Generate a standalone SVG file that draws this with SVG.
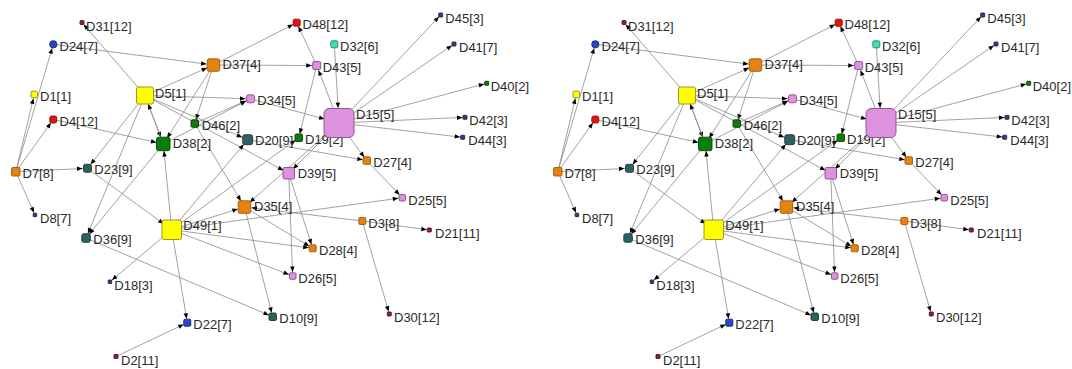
<svg xmlns="http://www.w3.org/2000/svg" width="1072" height="369" viewBox="0 0 1072 369">
<defs>
<style>
.bg{fill:#ffffff}
.e line,line.e{stroke:#8a8a8a;stroke-width:0.8}
.a2{marker-end:url(#m2)}.a4{marker-end:url(#m4)}.a5{marker-end:url(#m5)}.a6{marker-end:url(#m6)}
.a7{marker-end:url(#m7)}.a9{marker-end:url(#m9)}.a10{marker-end:url(#m10)}.a15{marker-end:url(#m15)}
text{font-family:"Liberation Sans",Arial,sans-serif;font-size:13px;fill:#2a2a2a}
rect{stroke-width:0.9}
.yel{fill:#ffff00;stroke:#8c8c1a}
.org{fill:#e8820e;stroke:#9a5a10}
.pnk{fill:#dc92dc;stroke:#8a4a8a}
.grn{fill:#0b7d0b;stroke:#064006}
.tea{fill:#2e6060;stroke:#1a3a3a}
.blu{fill:#2747c8;stroke:#14246a}
.red{fill:#e31414;stroke:#801010}
.mar{fill:#8b2035;stroke:#501020}
.nav{fill:#3b3b80;stroke:#20204a}
.aqu{fill:#3fe0b0;stroke:#208060}
</style>
<marker id="m2" markerUnits="userSpaceOnUse" markerWidth="6" markerHeight="5" refX="8" refY="2.25" orient="auto" overflow="visible"><path d="M0,0 L5.5,2.25 L0,4.5 z" fill="#000"/></marker>
<marker id="m4" markerUnits="userSpaceOnUse" markerWidth="6" markerHeight="5" refX="9.5" refY="2.25" orient="auto" overflow="visible"><path d="M0,0 L5.5,2.25 L0,4.5 z" fill="#000"/></marker>
<marker id="m5" markerUnits="userSpaceOnUse" markerWidth="6" markerHeight="5" refX="10.5" refY="2.25" orient="auto" overflow="visible"><path d="M0,0 L5.5,2.25 L0,4.5 z" fill="#000"/></marker>
<marker id="m6" markerUnits="userSpaceOnUse" markerWidth="6" markerHeight="5" refX="11.5" refY="2.25" orient="auto" overflow="visible"><path d="M0,0 L5.5,2.25 L0,4.5 z" fill="#000"/></marker>
<marker id="m7" markerUnits="userSpaceOnUse" markerWidth="6" markerHeight="5" refX="12.5" refY="2.25" orient="auto" overflow="visible"><path d="M0,0 L5.5,2.25 L0,4.5 z" fill="#000"/></marker>
<marker id="m9" markerUnits="userSpaceOnUse" markerWidth="6" markerHeight="5" refX="14.5" refY="2.25" orient="auto" overflow="visible"><path d="M0,0 L5.5,2.25 L0,4.5 z" fill="#000"/></marker>
<marker id="m10" markerUnits="userSpaceOnUse" markerWidth="6" markerHeight="5" refX="15.5" refY="2.25" orient="auto" overflow="visible"><path d="M0,0 L5.5,2.25 L0,4.5 z" fill="#000"/></marker>
<marker id="m15" markerUnits="userSpaceOnUse" markerWidth="6" markerHeight="5" refX="20.5" refY="2.25" orient="auto" overflow="visible"><path d="M0,0 L5.5,2.25 L0,4.5 z" fill="#000"/></marker>
</defs>
<rect class="bg" x="0" y="0" width="1072" height="369"/>

<!-- left panel -->
<g id="panel-left">
<g id="connectors-left" class="e">
<line class="a4" x1="15.8" y1="171.7" x2="34.3" y2="94.5"/>
<line class="a4" x1="15.8" y1="171.7" x2="53.3" y2="44.3"/>
<line class="a4" x1="15.8" y1="171.7" x2="53.3" y2="119.5"/>
<line class="a5" x1="15.8" y1="171.7" x2="87.5" y2="168.3"/>
<line class="a2" x1="15.8" y1="171.7" x2="35" y2="215"/>
<line class="a2" x1="145" y1="95.5" x2="82" y2="22.5"/>
<line class="a7" x1="53.3" y1="44.3" x2="213.5" y2="65"/>
<line class="a7" x1="145" y1="95.5" x2="213.5" y2="65"/>
<line class="a4" x1="213.5" y1="65" x2="296.7" y2="22.7"/>
<line class="a5" x1="213.5" y1="65" x2="316.7" y2="65.5"/>
<line class="a4" x1="213.5" y1="65" x2="194.7" y2="123.5"/>
<line class="a7" x1="213.5" y1="65" x2="163.3" y2="144"/>
<line class="a5" x1="145" y1="95.5" x2="250.5" y2="98.8"/>
<line class="a6" x1="145" y1="95.5" x2="247.7" y2="139.7"/>
<line class="a6" x1="145" y1="95.5" x2="288.7" y2="173.3"/>
<line class="a7" x1="145" y1="95.5" x2="163.3" y2="144"/>
<line class="a9" x1="163.3" y1="144" x2="145" y2="95.5"/>
<line class="a5" x1="145" y1="95.5" x2="87.5" y2="168.3"/>
<line class="a5" x1="145" y1="95.5" x2="86" y2="238"/>
<line class="a7" x1="53.3" y1="119.5" x2="163.3" y2="144"/>
<line class="a5" x1="194.7" y1="123.5" x2="250.5" y2="98.8"/>
<line class="a5" x1="163.3" y1="144" x2="250.5" y2="98.8"/>
<line class="a7" x1="194.7" y1="123.5" x2="244.5" y2="207"/>
<line class="a5" x1="163.3" y1="144" x2="86" y2="238"/>
<line class="a7" x1="171.7" y1="229.7" x2="163.3" y2="144"/>
<line class="a4" x1="171.7" y1="229.7" x2="187.3" y2="322.7"/>
<line class="a4" x1="116" y1="356.5" x2="187.3" y2="322.7"/>
<line class="a7" x1="171.7" y1="229.7" x2="244.5" y2="207"/>
<line class="a4" x1="171.7" y1="229.7" x2="402.3" y2="197.7"/>
<line class="a4" x1="171.7" y1="229.7" x2="312.7" y2="248.3"/>
<line class="a4" x1="171.7" y1="229.7" x2="292.7" y2="276"/>
<line class="a6" x1="171.7" y1="229.7" x2="247.7" y2="139.7"/>
<line class="a4" x1="171.7" y1="229.7" x2="298.8" y2="137.8"/>
<line class="a2" x1="171.7" y1="229.7" x2="110" y2="281.7"/>
<line class="a10" x1="87.5" y1="168.3" x2="171.7" y2="229.7"/>
<line class="a4" x1="86" y1="238" x2="272.7" y2="316.7"/>
<line class="a4" x1="244.5" y1="207" x2="272.7" y2="316.7"/>
<line class="a4" x1="288.7" y1="173.3" x2="292.7" y2="276"/>
<line class="a4" x1="288.7" y1="173.3" x2="312.7" y2="248.3"/>
<line class="a4" x1="244.5" y1="207" x2="312.7" y2="248.3"/>
<line class="a7" x1="362.3" y1="221" x2="244.5" y2="207"/>
<line class="a2" x1="362.3" y1="221" x2="429.3" y2="230"/>
<line class="a2" x1="362.3" y1="221" x2="389.3" y2="314"/>
<line class="a4" x1="366.7" y1="160.5" x2="402.3" y2="197.7"/>
<line class="a4" x1="339" y1="123" x2="366.7" y2="160.5"/>
<line class="a4" x1="247.7" y1="139.7" x2="366.7" y2="160.5"/>
<line class="a2" x1="339" y1="123" x2="440.7" y2="15"/>
<line class="a2" x1="339" y1="123" x2="454" y2="44"/>
<line class="a2" x1="339" y1="123" x2="486.7" y2="83.3"/>
<line class="a2" x1="339" y1="123" x2="465" y2="117.3"/>
<line class="a2" x1="339" y1="123" x2="462.7" y2="137.3"/>
<line class="a5" x1="339" y1="123" x2="316.7" y2="65.5"/>
<line class="a4" x1="316.7" y1="65.5" x2="296.7" y2="22.7"/>
<line class="a15" x1="334.3" y1="44.3" x2="339" y2="123"/>
<line class="a4" x1="316.7" y1="65.5" x2="298.8" y2="137.8"/>
<line class="a15" x1="250.5" y1="98.8" x2="339" y2="123"/>
<line class="a6" x1="339" y1="123" x2="288.7" y2="173.3"/>
<line class="a7" x1="339" y1="123" x2="244.5" y2="207"/>
</g>
<g id="node-D31"><rect class="mar" x="80" y="20.5" width="4" height="4" rx="0.8"/><text x="86" y="30.5">D31[12]</text></g>
<g id="node-D24"><rect class="blu" x="49.8" y="40.8" width="7" height="7" rx="3"/><text x="59.5" y="50.8">D24[7]</text></g>
<g id="node-D1"><rect class="yel" x="31" y="91.2" width="6.5" height="6.5" rx="1.2"/><text x="40" y="101.2">D1[1]</text></g>
<g id="node-D4"><rect class="red" x="49.8" y="116" width="7" height="7" rx="2"/><text x="59.5" y="126">D4[12]</text></g>
<g id="node-D7"><rect class="org" x="11.5" y="167.5" width="8.5" height="8.5" rx="1.2"/><text x="22.5" y="177.5">D7[8]</text></g>
<g id="node-D8"><rect class="nav" x="33.2" y="213.2" width="3.5" height="3.5" rx="0.6"/><text x="40" y="223">D8[7]</text></g>
<g id="node-D5"><rect class="yel" x="136.5" y="87" width="17" height="17" rx="2"/><text x="155" y="97.5">D5[1]</text></g>
<g id="node-D37"><rect class="org" x="207.2" y="58.8" width="12.5" height="12.5" rx="2"/><text x="222.5" y="69">D37[4]</text></g>
<g id="node-D48"><rect class="red" x="293.2" y="19.2" width="7" height="7" rx="1.5"/><text x="302.5" y="29.2">D48[12]</text></g>
<g id="node-D32"><rect class="aqu" x="330.8" y="40.8" width="7" height="7" rx="1.5"/><text x="340" y="50.8">D32[6]</text></g>
<g id="node-D43"><rect class="pnk" x="312.7" y="61.5" width="8" height="8" rx="1.5"/><text x="322.7" y="71.5">D43[5]</text></g>
<g id="node-D34"><rect class="pnk" x="246.5" y="94.8" width="8" height="8" rx="2"/><text x="257.3" y="104.8">D34[5]</text></g>
<g id="node-D46"><rect class="grn" x="191" y="119.8" width="7.5" height="7.5" rx="1.2"/><text x="201.7" y="129.8">D46[2]</text></g>
<g id="node-D38"><rect class="grn" x="156.5" y="137.2" width="13.5" height="13.5" rx="2"/><text x="172.7" y="147.5">D38[2]</text></g>
<g id="node-D20"><rect class="tea" x="242.7" y="134.7" width="10" height="10" rx="2.2"/><text x="255" y="145">D20[9]</text></g>
<g id="node-D19"><rect class="grn" x="295" y="134" width="7.5" height="7.5" rx="1.2"/><text x="305" y="144">D19[2]</text></g>
<g id="node-D15"><rect class="pnk" x="324" y="108.5" width="30" height="29" rx="5"/><text x="356" y="118.5">D15[5]</text></g>
<g id="node-D45"><rect class="nav" x="438.7" y="13" width="4" height="4" rx="0.6"/><text x="445.3" y="23">D45[3]</text></g>
<g id="node-D41"><rect class="nav" x="452" y="42" width="4" height="4" rx="0.6"/><text x="459" y="52">D41[7]</text></g>
<g id="node-D40"><rect class="grn" x="484.7" y="81.3" width="4" height="4" rx="0.6"/><text x="490.7" y="91.3">D40[2]</text></g>
<g id="node-D42"><rect class="nav" x="463" y="115.3" width="4" height="4" rx="0.6"/><text x="469.3" y="125.3">D42[3]</text></g>
<g id="node-D44"><rect class="nav" x="460.7" y="135.3" width="4" height="4" rx="0.6"/><text x="468.3" y="145.3">D44[3]</text></g>
<g id="node-D27"><rect class="org" x="363" y="156.8" width="7.5" height="7.5" rx="1.2"/><text x="373.3" y="166.8">D27[4]</text></g>
<g id="node-D23"><rect class="tea" x="83.5" y="164.3" width="8" height="8" rx="1.8"/><text x="94.3" y="174.3">D23[9]</text></g>
<g id="node-D39"><rect class="pnk" x="283" y="167.5" width="11.5" height="11.5" rx="1.5"/><text x="297.7" y="177.7">D39[5]</text></g>
<g id="node-D25"><rect class="pnk" x="399" y="194.5" width="6.5" height="6.5" rx="1.2"/><text x="408.3" y="204.5">D25[5]</text></g>
<g id="node-D35"><rect class="org" x="238.2" y="200.8" width="12.5" height="12.5" rx="1.5"/><text x="254" y="211">D35[4]</text></g>
<g id="node-D49"><rect class="yel" x="162" y="220" width="19.5" height="19.5" rx="2"/><text x="183.3" y="230">D49[1]</text></g>
<g id="node-D3"><rect class="org" x="358.8" y="217.5" width="7" height="7" rx="1.2"/><text x="368.3" y="227.5">D3[8]</text></g>
<g id="node-D21"><rect class="mar" x="427.3" y="228" width="4" height="4" rx="0.6"/><text x="435" y="238">D21[11]</text></g>
<g id="node-D36"><rect class="tea" x="81.8" y="233.8" width="8.5" height="8.5" rx="1.8"/><text x="93.3" y="243.8">D36[9]</text></g>
<g id="node-D28"><rect class="org" x="309.2" y="244.8" width="7" height="7" rx="1.2"/><text x="319" y="254.8">D28[4]</text></g>
<g id="node-D26"><rect class="pnk" x="289.5" y="272.8" width="6.5" height="6.5" rx="1.2"/><text x="298.3" y="282.8">D26[5]</text></g>
<g id="node-D18"><rect class="nav" x="108.2" y="280" width="3.5" height="3.5" rx="0.6"/><text x="114.3" y="290">D18[3]</text></g>
<g id="node-D10"><rect class="tea" x="269" y="313" width="7.5" height="7.5" rx="1.5"/><text x="279.3" y="323">D10[9]</text></g>
<g id="node-D22"><rect class="blu" x="183.8" y="319.2" width="7" height="7" rx="1.2"/><text x="193.3" y="329.2">D22[7]</text></g>
<g id="node-D30"><rect class="mar" x="387.3" y="312" width="4" height="4" rx="0.6"/><text x="394" y="322">D30[12]</text></g>
<g id="node-D2"><rect class="mar" x="114" y="354.5" width="4" height="4" rx="0.6"/><text x="121" y="364.5">D2[11]</text></g>
</g>

<!-- right panel: same graph, shifted -->
<g id="panel-right" transform="translate(542,0)">
<g id="connectors-right" class="e">
<line class="a4" x1="15.8" y1="171.7" x2="34.3" y2="94.5"/>
<line class="a4" x1="15.8" y1="171.7" x2="53.3" y2="44.3"/>
<line class="a4" x1="15.8" y1="171.7" x2="53.3" y2="119.5"/>
<line class="a5" x1="15.8" y1="171.7" x2="87.5" y2="168.3"/>
<line class="a2" x1="15.8" y1="171.7" x2="35" y2="215"/>
<line class="a2" x1="145" y1="95.5" x2="82" y2="22.5"/>
<line class="a7" x1="53.3" y1="44.3" x2="213.5" y2="65"/>
<line class="a7" x1="145" y1="95.5" x2="213.5" y2="65"/>
<line class="a4" x1="213.5" y1="65" x2="296.7" y2="22.7"/>
<line class="a5" x1="213.5" y1="65" x2="316.7" y2="65.5"/>
<line class="a4" x1="213.5" y1="65" x2="194.7" y2="123.5"/>
<line class="a7" x1="213.5" y1="65" x2="163.3" y2="144"/>
<line class="a5" x1="145" y1="95.5" x2="250.5" y2="98.8"/>
<line class="a6" x1="145" y1="95.5" x2="247.7" y2="139.7"/>
<line class="a6" x1="145" y1="95.5" x2="288.7" y2="173.3"/>
<line class="a7" x1="145" y1="95.5" x2="163.3" y2="144"/>
<line class="a9" x1="163.3" y1="144" x2="145" y2="95.5"/>
<line class="a5" x1="145" y1="95.5" x2="87.5" y2="168.3"/>
<line class="a5" x1="145" y1="95.5" x2="86" y2="238"/>
<line class="a7" x1="53.3" y1="119.5" x2="163.3" y2="144"/>
<line class="a5" x1="194.7" y1="123.5" x2="250.5" y2="98.8"/>
<line class="a5" x1="163.3" y1="144" x2="250.5" y2="98.8"/>
<line class="a7" x1="194.7" y1="123.5" x2="244.5" y2="207"/>
<line class="a5" x1="163.3" y1="144" x2="86" y2="238"/>
<line class="a7" x1="171.7" y1="229.7" x2="163.3" y2="144"/>
<line class="a4" x1="171.7" y1="229.7" x2="187.3" y2="322.7"/>
<line class="a4" x1="116" y1="356.5" x2="187.3" y2="322.7"/>
<line class="a7" x1="171.7" y1="229.7" x2="244.5" y2="207"/>
<line class="a4" x1="171.7" y1="229.7" x2="402.3" y2="197.7"/>
<line class="a4" x1="171.7" y1="229.7" x2="312.7" y2="248.3"/>
<line class="a4" x1="171.7" y1="229.7" x2="292.7" y2="276"/>
<line class="a6" x1="171.7" y1="229.7" x2="247.7" y2="139.7"/>
<line class="a4" x1="171.7" y1="229.7" x2="298.8" y2="137.8"/>
<line class="a2" x1="171.7" y1="229.7" x2="110" y2="281.7"/>
<line class="a10" x1="87.5" y1="168.3" x2="171.7" y2="229.7"/>
<line class="a4" x1="86" y1="238" x2="272.7" y2="316.7"/>
<line class="a4" x1="244.5" y1="207" x2="272.7" y2="316.7"/>
<line class="a4" x1="288.7" y1="173.3" x2="292.7" y2="276"/>
<line class="a4" x1="288.7" y1="173.3" x2="312.7" y2="248.3"/>
<line class="a4" x1="244.5" y1="207" x2="312.7" y2="248.3"/>
<line class="a7" x1="362.3" y1="221" x2="244.5" y2="207"/>
<line class="a2" x1="362.3" y1="221" x2="429.3" y2="230"/>
<line class="a2" x1="362.3" y1="221" x2="389.3" y2="314"/>
<line class="a4" x1="366.7" y1="160.5" x2="402.3" y2="197.7"/>
<line class="a4" x1="339" y1="123" x2="366.7" y2="160.5"/>
<line class="a4" x1="247.7" y1="139.7" x2="366.7" y2="160.5"/>
<line class="a2" x1="339" y1="123" x2="440.7" y2="15"/>
<line class="a2" x1="339" y1="123" x2="454" y2="44"/>
<line class="a2" x1="339" y1="123" x2="486.7" y2="83.3"/>
<line class="a2" x1="339" y1="123" x2="465" y2="117.3"/>
<line class="a2" x1="339" y1="123" x2="462.7" y2="137.3"/>
<line class="a5" x1="339" y1="123" x2="316.7" y2="65.5"/>
<line class="a4" x1="316.7" y1="65.5" x2="296.7" y2="22.7"/>
<line class="a15" x1="334.3" y1="44.3" x2="339" y2="123"/>
<line class="a4" x1="316.7" y1="65.5" x2="298.8" y2="137.8"/>
<line class="a15" x1="250.5" y1="98.8" x2="339" y2="123"/>
<line class="a6" x1="339" y1="123" x2="288.7" y2="173.3"/>
<line class="a7" x1="339" y1="123" x2="244.5" y2="207"/>
</g>
<g id="r-node-D31"><rect class="mar" x="80" y="20.5" width="4" height="4" rx="0.8"/><text x="86" y="30.5">D31[12]</text></g>
<g id="r-node-D24"><rect class="blu" x="49.8" y="40.8" width="7" height="7" rx="3"/><text x="59.5" y="50.8">D24[7]</text></g>
<g id="r-node-D1"><rect class="yel" x="31" y="91.2" width="6.5" height="6.5" rx="1.2"/><text x="40" y="101.2">D1[1]</text></g>
<g id="r-node-D4"><rect class="red" x="49.8" y="116" width="7" height="7" rx="2"/><text x="59.5" y="126">D4[12]</text></g>
<g id="r-node-D7"><rect class="org" x="11.5" y="167.5" width="8.5" height="8.5" rx="1.2"/><text x="22.5" y="177.5">D7[8]</text></g>
<g id="r-node-D8"><rect class="nav" x="33.2" y="213.2" width="3.5" height="3.5" rx="0.6"/><text x="40" y="223">D8[7]</text></g>
<g id="r-node-D5"><rect class="yel" x="136.5" y="87" width="17" height="17" rx="2"/><text x="155" y="97.5">D5[1]</text></g>
<g id="r-node-D37"><rect class="org" x="207.2" y="58.8" width="12.5" height="12.5" rx="2"/><text x="222.5" y="69">D37[4]</text></g>
<g id="r-node-D48"><rect class="red" x="293.2" y="19.2" width="7" height="7" rx="1.5"/><text x="302.5" y="29.2">D48[12]</text></g>
<g id="r-node-D32"><rect class="aqu" x="330.8" y="40.8" width="7" height="7" rx="1.5"/><text x="340" y="50.8">D32[6]</text></g>
<g id="r-node-D43"><rect class="pnk" x="312.7" y="61.5" width="8" height="8" rx="1.5"/><text x="322.7" y="71.5">D43[5]</text></g>
<g id="r-node-D34"><rect class="pnk" x="246.5" y="94.8" width="8" height="8" rx="2"/><text x="257.3" y="104.8">D34[5]</text></g>
<g id="r-node-D46"><rect class="grn" x="191" y="119.8" width="7.5" height="7.5" rx="1.2"/><text x="201.7" y="129.8">D46[2]</text></g>
<g id="r-node-D38"><rect class="grn" x="156.5" y="137.2" width="13.5" height="13.5" rx="2"/><text x="172.7" y="147.5">D38[2]</text></g>
<g id="r-node-D20"><rect class="tea" x="242.7" y="134.7" width="10" height="10" rx="2.2"/><text x="255" y="145">D20[9]</text></g>
<g id="r-node-D19"><rect class="grn" x="295" y="134" width="7.5" height="7.5" rx="1.2"/><text x="305" y="144">D19[2]</text></g>
<g id="r-node-D15"><rect class="pnk" x="324" y="108.5" width="30" height="29" rx="5"/><text x="356" y="118.5">D15[5]</text></g>
<g id="r-node-D45"><rect class="nav" x="438.7" y="13" width="4" height="4" rx="0.6"/><text x="445.3" y="23">D45[3]</text></g>
<g id="r-node-D41"><rect class="nav" x="452" y="42" width="4" height="4" rx="0.6"/><text x="459" y="52">D41[7]</text></g>
<g id="r-node-D40"><rect class="grn" x="484.7" y="81.3" width="4" height="4" rx="0.6"/><text x="490.7" y="91.3">D40[2]</text></g>
<g id="r-node-D42"><rect class="nav" x="463" y="115.3" width="4" height="4" rx="0.6"/><text x="469.3" y="125.3">D42[3]</text></g>
<g id="r-node-D44"><rect class="nav" x="460.7" y="135.3" width="4" height="4" rx="0.6"/><text x="468.3" y="145.3">D44[3]</text></g>
<g id="r-node-D27"><rect class="org" x="363" y="156.8" width="7.5" height="7.5" rx="1.2"/><text x="373.3" y="166.8">D27[4]</text></g>
<g id="r-node-D23"><rect class="tea" x="83.5" y="164.3" width="8" height="8" rx="1.8"/><text x="94.3" y="174.3">D23[9]</text></g>
<g id="r-node-D39"><rect class="pnk" x="283" y="167.5" width="11.5" height="11.5" rx="1.5"/><text x="297.7" y="177.7">D39[5]</text></g>
<g id="r-node-D25"><rect class="pnk" x="399" y="194.5" width="6.5" height="6.5" rx="1.2"/><text x="408.3" y="204.5">D25[5]</text></g>
<g id="r-node-D35"><rect class="org" x="238.2" y="200.8" width="12.5" height="12.5" rx="1.5"/><text x="254" y="211">D35[4]</text></g>
<g id="r-node-D49"><rect class="yel" x="162" y="220" width="19.5" height="19.5" rx="2"/><text x="183.3" y="230">D49[1]</text></g>
<g id="r-node-D3"><rect class="org" x="358.8" y="217.5" width="7" height="7" rx="1.2"/><text x="368.3" y="227.5">D3[8]</text></g>
<g id="r-node-D21"><rect class="mar" x="427.3" y="228" width="4" height="4" rx="0.6"/><text x="435" y="238">D21[11]</text></g>
<g id="r-node-D36"><rect class="tea" x="81.8" y="233.8" width="8.5" height="8.5" rx="1.8"/><text x="93.3" y="243.8">D36[9]</text></g>
<g id="r-node-D28"><rect class="org" x="309.2" y="244.8" width="7" height="7" rx="1.2"/><text x="319" y="254.8">D28[4]</text></g>
<g id="r-node-D26"><rect class="pnk" x="289.5" y="272.8" width="6.5" height="6.5" rx="1.2"/><text x="298.3" y="282.8">D26[5]</text></g>
<g id="r-node-D18"><rect class="nav" x="108.2" y="280" width="3.5" height="3.5" rx="0.6"/><text x="114.3" y="290">D18[3]</text></g>
<g id="r-node-D10"><rect class="tea" x="269" y="313" width="7.5" height="7.5" rx="1.5"/><text x="279.3" y="323">D10[9]</text></g>
<g id="r-node-D22"><rect class="blu" x="183.8" y="319.2" width="7" height="7" rx="1.2"/><text x="193.3" y="329.2">D22[7]</text></g>
<g id="r-node-D30"><rect class="mar" x="387.3" y="312" width="4" height="4" rx="0.6"/><text x="394" y="322">D30[12]</text></g>
<g id="r-node-D2"><rect class="mar" x="114" y="354.5" width="4" height="4" rx="0.6"/><text x="121" y="364.5">D2[11]</text></g>
</g>
</svg>
